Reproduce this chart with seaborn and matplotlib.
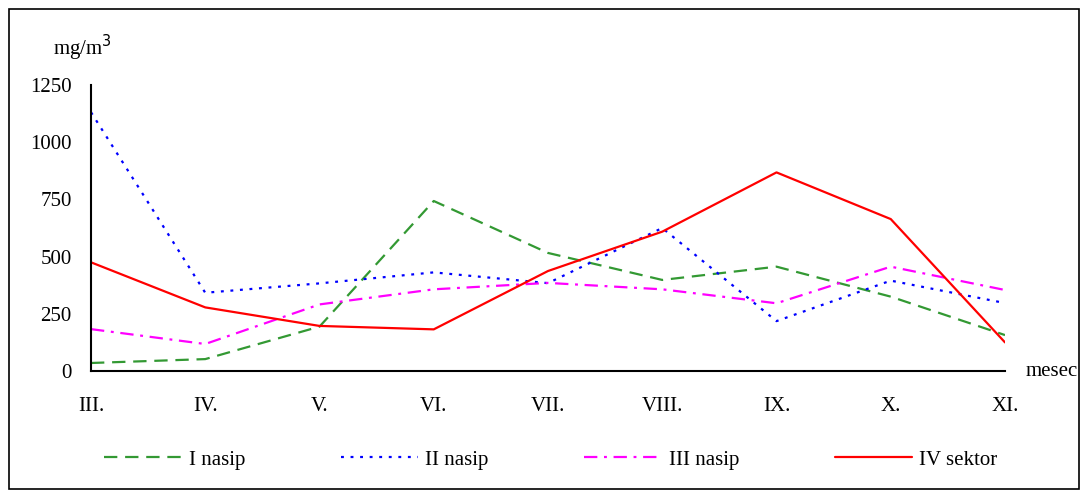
import matplotlib
matplotlib.use("Agg")
import matplotlib.pyplot as plt
import seaborn as sns
import pandas as pd
from matplotlib.patches import Rectangle

months = ["III.", "IV.", "V.", "VI.", "VII.", "VIII.", "IX.", "X.", "XI."]
nasip_1 = [35, 52, 194, 743, 516, 398, 456, 325, 157]
nasip_2 = [1131, 342, 383, 431, 384, 625, 218, 395, 297]
nasip_3 = [183, 118, 291, 357, 385, 357, 296, 456, 354]
sektor_4 = [475, 278, 197, 182, 437, 609, 868, 664, 125]
series_names = ["I nasip", "II nasip", "III nasip", "IV sektor"]
y_ticks = [0, 250, 500, 750, 1000, 1250]

sns.set_theme(style="white")
plt.rcParams['font.family'] = ['Liberation Serif', 'DejaVu Serif']
plt.rcParams['text.color'] = 'black'
plt.rcParams['axes.labelcolor'] = 'black'
plt.rcParams['xtick.color'] = 'black'
plt.rcParams['ytick.color'] = 'black'

rows = []
for name, vals in zip(series_names, [nasip_1, nasip_2, nasip_3, sektor_4]):
    for i, (m, v) in enumerate(zip(months, vals)):
        rows.append({"idx": i, "month": m, "value": v, "series": name})
df = pd.DataFrame(rows)

palette = {"I nasip": "#339933", "II nasip": "#0000ff", "III nasip": "#ff00ff", "IV sektor": "#ff0000"}
dashes = {"I nasip": (6, 3.5), "II nasip": (1.3, 3), "III nasip": (6, 3, 1.3, 3), "IV sektor": ""}

fig = plt.figure(figsize=(10.83, 4.93), dpi=100)
ax = fig.add_axes([91/1083, 1 - 371/493, (1005-91)/1083, (371-85)/493])

sns.lineplot(data=df, x="idx", y="value", hue="series", style="series",
             palette=palette, dashes=dashes, linewidth=1.6, ax=ax, legend=True,
             hue_order=series_names, style_order=series_names)

ax.set_xlim(0, len(months) - 1)
ax.set_ylim(0, 1250)
ax.set_xticks(range(len(months)))
ax.set_xticklabels(months)
ax.set_yticks(y_ticks)
ax.set_xlabel("")
ax.set_ylabel("")
for s in ["top", "right"]:
    ax.spines[s].set_visible(False)
for s in ["left", "bottom"]:
    ax.spines[s].set_color("black")
    ax.spines[s].set_linewidth(1.5)
ax.tick_params(axis="both", which="major", direction="out", length=6, width=1.5,
               color="black", labelsize=15, labelcolor="black")
ax.tick_params(axis="x", pad=13)
ax.tick_params(axis="y", pad=8)

ax.text((82 - 91) / 914, (371 - 48) / 286, "mg/m$^3$", transform=ax.transAxes,
        fontsize=15, ha="center", va="center")
ax.text((1052 - 91) / 914, 0.0, "mesec", transform=ax.transAxes, fontsize=15,
        ha="center", va="center")

handles, labels = ax.get_legend_handles_labels()
ax.legend(handles, labels, loc="center", bbox_to_anchor=((551 - 91) / 914, (371 - 460) / 286),
          ncol=4, frameon=False, fontsize=15, handlelength=3.7, handletextpad=0.35,
          columnspacing=4.6)

fig.patches.append(Rectangle((9/1083, 1 - 489/493), (1079-9)/1083, (489-9)/493,
                             transform=fig.transFigure, fill=False, edgecolor="black",
                             linewidth=1.2))

fig.savefig("out.png", dpi=100)
